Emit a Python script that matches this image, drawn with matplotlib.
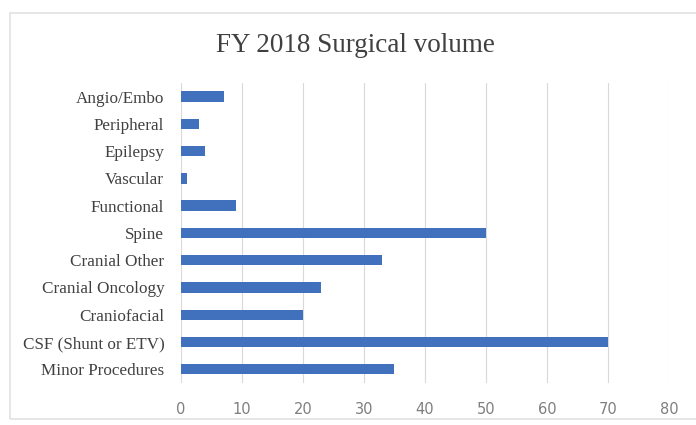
import matplotlib.pyplot as plt
from matplotlib.patches import Rectangle

categories = [
    "Minor Procedures", "CSF (Shunt or ETV)", "Craniofacial", "Cranial Oncology",
    "Cranial Other", "Spine", "Functional", "Vascular", "Epilepsy",
    "Peripheral", "Angio/Embo",
]
volumes = [35, 70, 20, 23, 33, 50, 9, 1, 4, 3, 7]
x_ticks = [0, 10, 20, 30, 40, 50, 60, 70, 80]

fig = plt.figure(figsize=(6.96, 4.25), dpi=100)
ax = fig.add_axes([0.260, 0.099, 0.701, 0.706])

# outer chart frame (right edge runs past the image)
fig.patches.append(Rectangle((10 / 696, 1 - 419 / 425), 1.0, (419 - 13) / 425,
                             transform=fig.transFigure, fill=False,
                             edgecolor="#e2e2e2", linewidth=1.2))

ax.barh(range(len(categories)), volumes, height=0.38, color="#4170BD", zorder=3)

ax.set_xlim(0, 80)
ax.set_ylim(-0.5, len(categories) - 0.5)
ax.set_xticks(x_ticks)
ax.set_yticks(range(len(categories)))
ax.set_yticklabels(categories, fontfamily="Liberation Serif", fontsize=12.3, color="#404040")
for lbl in ax.get_xticklabels():
    lbl.set_fontfamily("DejaVu Sans")
    lbl.set_fontsize(10.5)
    lbl.set_color("#7f7f7f")

ax.grid(axis="x", color="#d9d9d9", linewidth=0.8, zorder=0)
for s in ax.spines.values():
    s.set_visible(False)
ax.tick_params(length=0)
ax.tick_params(axis="y", pad=12)
ax.tick_params(axis="x", pad=14)

fig.text(0.51, 1 - 45 / 425, "FY 2018 Surgical volume", ha="center", va="center",
         fontfamily="Liberation Serif", fontsize=19.5, color="#404040")

fig.savefig("out.png", dpi=100)
